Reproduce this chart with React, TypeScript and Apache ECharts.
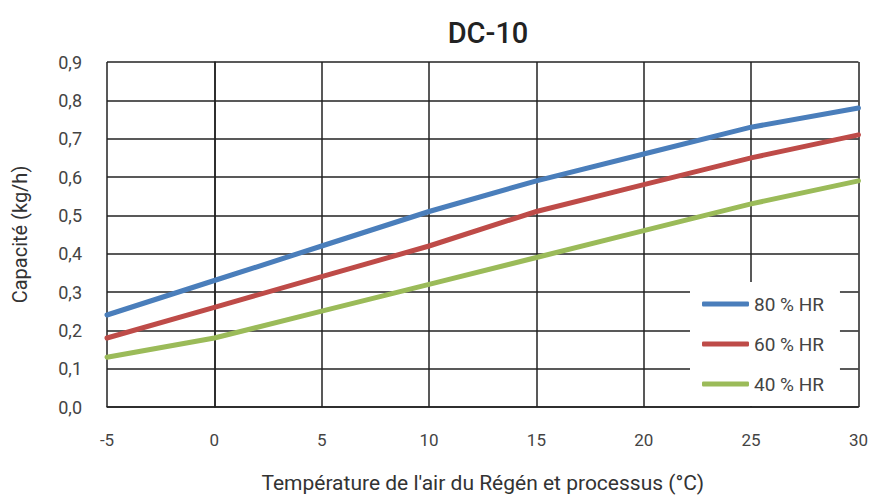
import React, { useEffect, useRef } from "react";
import * as echarts from "echarts";

const temps = [-5, 0, 5, 10, 15, 20, 25, 30];
const hr80 = [0.24, 0.33, 0.42, 0.51, 0.59, 0.66, 0.73, 0.78];
const hr60 = [0.18, 0.26, 0.34, 0.42, 0.51, 0.58, 0.65, 0.71];
const hr40 = [0.13, 0.18, 0.25, 0.32, 0.39, 0.46, 0.53, 0.59];
const seriesNames = ["80 % HR", "60 % HR", "40 % HR"];
const seriesColors = ["#4a7ebb", "#be4b48", "#9bbb59"];

const FONT = "Roboto, 'DejaVu Sans', sans-serif";

export default function App() {
  const ref = useRef<HTMLDivElement>(null);
  useEffect(() => {
    if (!ref.current) return;
    const chart = echarts.init(ref.current, null, { renderer: "svg", width: 871, height: 498 });
    const all = [hr80, hr60, hr40];
    chart.setOption({
      animation: false,
      backgroundColor: "#ffffff",
      textStyle: { fontFamily: FONT },
      title: {
        text: "DC-10",
        left: 483,
        textAlign: "center",
        top: 13,
        textStyle: { fontSize: 29, fontWeight: 500, color: "#222", fontFamily: FONT },
      },
      grid: { left: 107, right: 11, top: 62, bottom: 83, containLabel: false },
      legend: {
        orient: "vertical",
        left: 690,
        top: 282,
        padding: [12, 16, 12, 12],
        backgroundColor: "#ffffff",
        itemWidth: 47,
        itemHeight: 5,
        itemGap: 20,
        icon: "roundRect",
        textStyle: { fontSize: 19, color: "#444", lineHeight: 20, fontFamily: FONT },
        data: seriesNames,
      },
      xAxis: {
        type: "value",
        min: -5,
        max: 30,
        interval: 5,
        name: "Température de l'air du Régén et processus (°C)",
        nameLocation: "middle",
        nameGap: 65,
        nameTextStyle: { fontSize: 21, color: "#333", fontFamily: FONT },
        axisLine: { show: true, onZero: false, lineStyle: { color: "#222", width: 1.5 } },
        axisTick: { show: false },
        axisLabel: { fontSize: 17, color: "#444", margin: 24, fontFamily: FONT },
        splitLine: { show: true, lineStyle: { color: "#222", width: 1.5 } },
      },
      yAxis: {
        type: "value",
        min: 0,
        max: 0.9,
        interval: 0.1,
        name: "Capacité (kg/h)",
        nameLocation: "middle",
        nameGap: 77,
        nameRotate: 90,
        nameTextStyle: { fontSize: 20, color: "#333", fontFamily: FONT },
        axisLine: { show: true, lineStyle: { color: "#222", width: 1.5 } },
        axisTick: { show: false },
        axisLabel: {
          fontSize: 18,
          color: "#444",
          margin: 25,
          fontFamily: FONT,
          formatter: (v: number) => v.toFixed(1).replace(".", ","),
        },
        splitLine: { show: true, lineStyle: { color: "#222", width: 1.5 } },
      },
      series: all.map((vals, i) => ({
        name: seriesNames[i],
        type: "line",
        data: temps.map((t, j) => [t, vals[j]]),
        showSymbol: false,
        symbol: "none",
        smooth: false,
        lineStyle: { color: seriesColors[i], width: 5, cap: "round" },
        itemStyle: { color: seriesColors[i] },
        z: 3,
      })),
    });
    return () => chart.dispose();
  }, []);
  return (
    <div
      ref={ref}
      style={{ position: "fixed", left: 0, top: 0, width: 871, height: 498 }}
    />
  );
}
